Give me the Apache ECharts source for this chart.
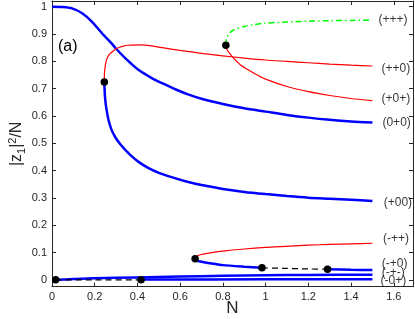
<!DOCTYPE html>
<html><head><meta charset="utf-8">
<script src="https://cdn.jsdelivr.net/npm/echarts@6/dist/echarts.min.js"></script>
<style>html,body{margin:0;padding:0;background:#fff}#c{width:415px;height:319px}</style>
</head><body><div id="c"></div>
<script>
const xTicks = [0, 0.2, 0.4, 0.6, 0.8, 1, 1.2, 1.4, 1.6];
const yTicks = [0, 0.1, 0.2, 0.3, 0.4, 0.5, 0.6, 0.7, 0.8, 0.9, 1];

const s0p0 = [[0,1],[0.05,0.999],[0.094,0.994],[0.141,0.976],[0.1875,0.945],[0.234,0.903],[0.281,0.864],[0.297,0.849],[0.344,0.811],[0.406,0.768],[0.469,0.738],[0.516,0.72],[0.58,0.697],[0.64,0.678],[0.7,0.663],[0.8,0.644],[0.9,0.628],[1.0,0.616],[1.1,0.604],[1.2,0.594],[1.3,0.586],[1.4,0.58],[1.5,0.576]];
const sP00 = [[0.245,0.724],[0.246,0.70],[0.248,0.671],[0.253,0.635],[0.264,0.587],[0.278,0.551],[0.295,0.524],[0.318,0.498],[0.342,0.477],[0.37,0.455],[0.405,0.432],[0.45,0.41],[0.5,0.392],[0.56,0.376],[0.62,0.362],[0.7,0.347],[0.8,0.333],[0.9,0.322],[1.0,0.314],[1.1,0.307],[1.2,0.301],[1.3,0.297],[1.4,0.293],[1.5,0.289]];
const sPP0 = [[0.245,0.724],[0.245,0.745],[0.247,0.768],[0.252,0.795],[0.26,0.815],[0.273,0.829],[0.29,0.84],[0.305,0.848],[0.33,0.855],[0.359,0.859],[0.422,0.86],[0.516,0.85],[0.6,0.84],[0.7,0.829],[0.8,0.82],[0.9,0.812],[1.0,0.805],[1.1,0.8],[1.2,0.795],[1.3,0.79],[1.4,0.786],[1.5,0.783]];
const sPPP = [[0.814,0.859],[0.815,0.875],[0.82,0.891],[0.832,0.904],[0.85,0.915],[0.9,0.928],[0.95,0.935],[1.0,0.94],[1.1,0.944],[1.2,0.947],[1.3,0.949],[1.4,0.95],[1.5,0.951]];
const sP0P = [[0.814,0.859],[0.818,0.845],[0.827,0.834],[0.85,0.812],[0.881,0.788],[0.95,0.755],[1.0,0.735],[1.1,0.708],[1.2,0.689],[1.3,0.675],[1.4,0.664],[1.5,0.656]];
const sMPP = [[0.67,0.077],[0.675,0.085],[0.694,0.092],[0.741,0.099],[0.82,0.107],[0.9,0.113],[1.0,0.119],[1.07,0.122],[1.2,0.127],[1.3,0.13],[1.4,0.132],[1.5,0.134]];
const sMP0a = [[0.67,0.077],[0.68,0.07],[0.7,0.066],[0.741,0.061],[0.8,0.054],[0.9,0.048],[0.983,0.044]];
const sMP0dash = [[0.983,0.044],[1.1,0.042],[1.2,0.04],[1.29,0.039]];
const sMP0b = [[1.29,0.039],[1.4,0.037],[1.5,0.036]];
const sMPM = [[0.017,0],[0.1,0.003],[0.2,0.006],[0.4,0.009],[0.6,0.012],[0.8,0.015],[1.0,0.017],[1.2,0.018],[1.5,0.019]];
const sM0Pdash = [[0.017,0],[0.2,0],[0.417,0]];
const sM0P = [[0.417,0.001],[1.0,0.002],[1.5,0.002]];
const dots = [[0.017,0],[0.417,0],[0.245,0.724],[0.814,0.859],[0.67,0.077],[0.983,0.044],[1.29,0.039]];

const labelNames = ['(+++)','(++0)','(+0+)','(0+0)','(+00)','(-++)','(-+0)','(-+-)','(-0+)'];
const labelX = [1.528,1.543,1.543,1.547,1.553,1.55,1.544,1.544,1.538];
const labelY = [0.951,0.772,0.662,0.576,0.283,0.149,0.061,0.027,-0.004];

const FONT = 'Liberation Sans';
const AX = '#262626';
const chart = echarts.init(document.getElementById('c'), null, {renderer:'canvas'});

function line(data, color, width, type) {
  return {type:'line', data, showSymbol:false, symbol:'none', smooth:0.25, xAxisIndex:0, yAxisIndex:0,
    lineStyle:{color, width, type: type || 'solid'}, z: 2, animation:false};
}

const labelData = labelNames.map((n,i)=>[labelX[i], labelY[i], n]);

const xBase = {type:'value', min:0, max:1.69, splitLine:{show:false},
  axisLine:{show:true, onZero:false, lineStyle:{color:AX, width:1}}};
const yBase = {type:'value', min:-0.025, max:1.021, splitLine:{show:false},
  axisLine:{show:true, onZero:false, lineStyle:{color:AX, width:1}}};

chart.setOption({
  animation:false,
  title:{text:'(a)', left:53, top:34, textStyle:{fontFamily:FONT, fontSize:16, fontWeight:'normal', color:'#000'}},
  grid:{left:52, right:2, top:1, bottom:32.3, containLabel:false, outerBoundsMode:'none'},
  xAxis:[
    Object.assign({}, xBase, {position:'bottom',
      name:'N', nameLocation:'middle', nameGap:13, nameMoveOverlap:false,
      nameTextStyle:{fontFamily:FONT, fontSize:17, color:AX, verticalAlign:'top'},
      axisTick:{show:true, inside:true, length:4, customValues:xTicks, lineStyle:{color:AX}},
      axisLabel:{show:true, customValues:xTicks, fontFamily:FONT, fontSize:11, color:AX, margin:5,
        formatter:v=>String(v)}}),
    Object.assign({}, xBase, {position:'top',
      axisTick:{show:true, inside:true, length:4, customValues:xTicks, lineStyle:{color:AX}},
      axisLabel:{show:false}})
  ],
  yAxis:[
    Object.assign({}, yBase, {position:'left',
      name:'{a||z}{s|1}{a||}{p|2}{a|/N}', nameLocation:'middle', nameGap:25, nameRotate:90, nameMoveOverlap:false,
      nameTextStyle:{fontFamily:FONT, fontSize:16, color:AX,
        rich:{a:{fontFamily:FONT, fontSize:16, color:AX},
              s:{fontFamily:FONT, fontSize:11, color:AX, verticalAlign:'top', padding:[9,0,0,0]},
              p:{fontFamily:FONT, fontSize:11, color:AX, verticalAlign:'bottom', padding:[0,0,9,0]}}},
      axisTick:{show:true, inside:true, length:4, customValues:yTicks, lineStyle:{color:AX}},
      axisLabel:{show:true, customValues:yTicks, fontFamily:FONT, fontSize:11, color:AX, margin:5,
        formatter:v=>String(v)}}),
    Object.assign({}, yBase, {position:'right',
      axisTick:{show:true, inside:true, length:4, customValues:yTicks, lineStyle:{color:AX}},
      axisLabel:{show:false}})
  ],
  series:[
    line(s0p0, '#0000ff', 2.5),
    line(sP00, '#0000ff', 2.5),
    line(sPP0, '#ff0000', 1.2),
    line(sPPP, '#00ff00', 1.5, [6,3,1.5,3]),
    line(sP0P, '#ff0000', 1.2),
    line(sMPP, '#ff0000', 1.2),
    line(sMP0a, '#0000ff', 2.5),
    line(sMP0dash, '#000000', 1.2, [6,4]),
    line(sMP0b, '#0000ff', 2.5),
    line(sMPM, '#0000ff', 2.5),
    line(sM0Pdash, '#000000', 1.2, [6,4]),
    line(sM0P, '#0000ff', 2.5),
    {type:'scatter', data:dots, symbol:'circle', symbolSize:7.5, itemStyle:{color:'#000', opacity:1}, z:5, animation:false},
    {type:'scatter', data:labelData, symbolSize:0, z:6, animation:false, silent:true,
      label:{show:true, position:'right', distance:0, formatter:p=>p.data[2],
        fontFamily:FONT, fontSize:12, color:'#000'}}
  ]
});
</script></body></html>
